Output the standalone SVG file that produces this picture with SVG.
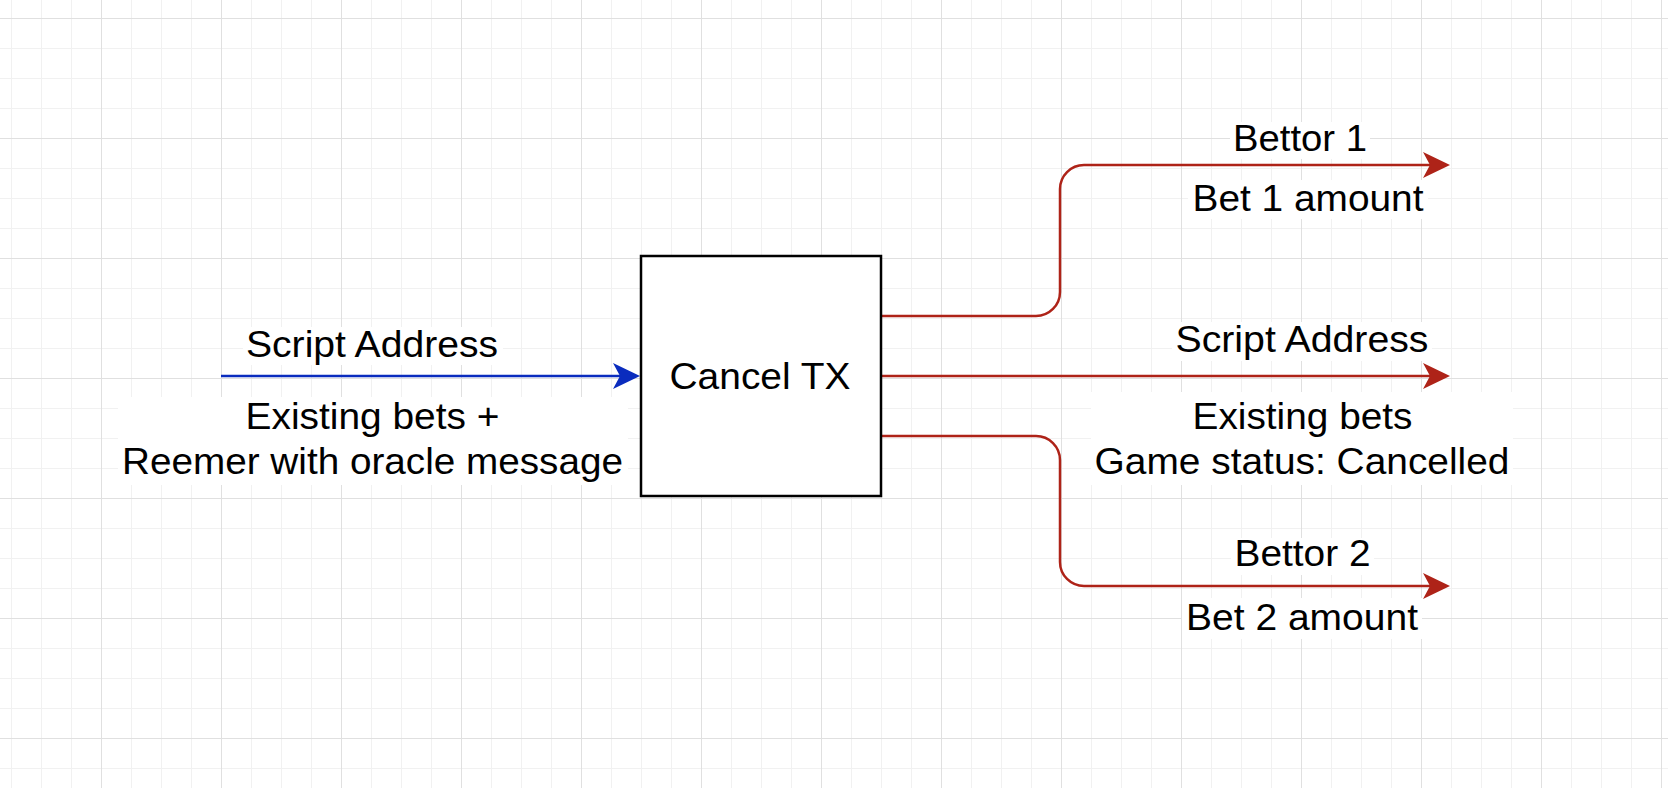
<svg xmlns="http://www.w3.org/2000/svg" width="1668" height="788" viewBox="0 0 1668 788">
  <defs>
    <pattern id="gridMinor" patternUnits="userSpaceOnUse" x="11" y="18" width="30" height="30">
      <path d="M0.5,0 V30 M0,0.5 H30" fill="none" stroke="#f1f1f1" stroke-width="1"/>
    </pattern>
    <pattern id="gridMajor" patternUnits="userSpaceOnUse" x="101" y="18" width="120" height="120">
      <path d="M0.5,0 V120 M0,0.5 H120" fill="none" stroke="#e0e0e0" stroke-width="1"/>
    </pattern>
    <marker id="arrowBlue" markerUnits="userSpaceOnUse" viewBox="0 0 27 26" refX="7" refY="13" markerWidth="27" markerHeight="26" orient="auto">
      <path d="M0,0 L27,13 L0,26 L7,13 Z" fill="#0A2CBE"/>
    </marker>
    <marker id="arrowRed" markerUnits="userSpaceOnUse" viewBox="0 0 27 26" refX="7" refY="13" markerWidth="27" markerHeight="26" orient="auto">
      <path d="M0,0 L27,13 L0,26 L7,13 Z" fill="#AE2318"/>
    </marker>
  </defs>
  <style>
    .lbl { font-family: "Liberation Sans", Arial, Helvetica, sans-serif; font-size: 37px; fill: #000000; text-anchor: middle; }
    .bg { fill: #ffffff; }
    .blue { fill: none; stroke: #0A2CBE; stroke-width: 2.5; }
    .red { fill: none; stroke: #AE2318; stroke-width: 2.5; }
    .box { fill: #ffffff; stroke: #000000; stroke-width: 2.5; }
  </style>

  <rect x="0" y="0" width="1668" height="788" fill="#ffffff"/>
  <rect x="0" y="0" width="1668" height="788" fill="url(#gridMinor)"/>
  <rect x="0" y="0" width="1668" height="788" fill="url(#gridMajor)"/>

  <g id="connectors">
    <path class="blue" d="M221,376 H620" marker-end="url(#arrowBlue)"/>
    <path class="red" d="M881,316 H1036 A24,24 0 0 0 1060,292 V189 A24,24 0 0 1 1084,165 H1430" marker-end="url(#arrowRed)"/>
    <path class="red" d="M881,376 H1430" marker-end="url(#arrowRed)"/>
    <path class="red" d="M881,436 H1036 A24,24 0 0 1 1060,460 V562 A24,24 0 0 0 1084,586 H1430" marker-end="url(#arrowRed)"/>
  </g>

  <g id="node-cancel-tx">
    <rect class="box" x="641" y="256" width="240" height="240"/>
    <text class="lbl" x="760" y="389" textLength="181" lengthAdjust="spacingAndGlyphs">Cancel TX</text>
  </g>

  <g id="label-input">
    <rect class="bg" x="243" y="327" width="260" height="38"/>
    <text class="lbl" x="372" y="357" textLength="252" lengthAdjust="spacingAndGlyphs">Script Address</text>
    <rect class="bg" x="118" y="397" width="510" height="88"/>
    <text class="lbl" x="372.5" y="429" textLength="254" lengthAdjust="spacingAndGlyphs">Existing bets +</text>
    <text class="lbl" x="372.5" y="474" textLength="501" lengthAdjust="spacingAndGlyphs">Reemer with oracle message</text>
  </g>

  <g id="label-bettor1">
    <rect class="bg" x="1230" y="122" width="140" height="37"/>
    <text class="lbl" x="1300" y="151" textLength="134" lengthAdjust="spacingAndGlyphs">Bettor 1</text>
    <rect class="bg" x="1188" y="180" width="240" height="39"/>
    <text class="lbl" x="1308" y="210.5" textLength="231" lengthAdjust="spacingAndGlyphs">Bet 1 amount</text>
  </g>

  <g id="label-script-output">
    <rect class="bg" x="1172" y="322" width="260" height="39"/>
    <text class="lbl" x="1302" y="352" textLength="253" lengthAdjust="spacingAndGlyphs">Script Address</text>
    <rect class="bg" x="1091" y="392" width="422" height="93"/>
    <text class="lbl" x="1302.5" y="429" textLength="220" lengthAdjust="spacingAndGlyphs">Existing bets</text>
    <text class="lbl" x="1302" y="474" textLength="415" lengthAdjust="spacingAndGlyphs">Game status: Cancelled</text>
  </g>

  <g id="label-bettor2">
    <rect class="bg" x="1231" y="538" width="143" height="37"/>
    <text class="lbl" x="1302.5" y="566" textLength="136" lengthAdjust="spacingAndGlyphs">Bettor 2</text>
    <rect class="bg" x="1182" y="598" width="240" height="41"/>
    <text class="lbl" x="1302" y="630" textLength="232" lengthAdjust="spacingAndGlyphs">Bet 2 amount</text>
  </g>
</svg>
